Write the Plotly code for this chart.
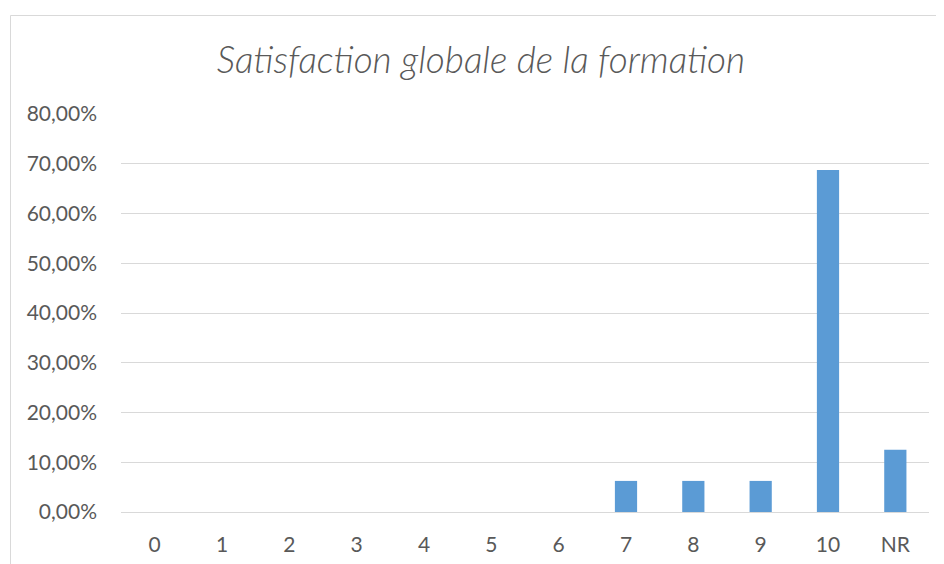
import plotly.graph_objects as go

categories = ["0", "1", "2", "3", "4", "5", "6", "7", "8", "9", "10", "NR"]
values = [0, 0, 0, 0, 0, 0, 0, 0.0625, 0.0625, 0.0625, 0.6875, 0.125]
y_ticks = [0, 0.1, 0.2, 0.3, 0.4, 0.5, 0.6, 0.7, 0.8]

fig = go.Figure(go.Bar(
    x=categories, y=values, width=0.33,
    marker=dict(color="#5B9BD5", line=dict(width=0)),
))

# page body has an 8px margin; compensate
OFF = 8
W, H = 944, 564
L = 121 - OFF
T = 114 - OFF
R = W - (929 - OFF)
B = H - (512 - OFF)
pw, ph = W - L - R, H - T - B

bx = 10.5 - OFF
by = 15.5 - OFF

fig.update_layout(
    width=W, height=H,
    margin=dict(l=L, r=R, t=T, b=B),
    paper_bgcolor="white", plot_bgcolor="white",
    separators=", ",
    showlegend=False,
    title=dict(text="Satisfaction globale de la formation",
               x=(481 - OFF) / W, xanchor="center", y=1 - (60 - OFF) / H, yanchor="middle",
               xref="container", yref="container",
               font=dict(family="Lato", size=37, color="#595959", style="italic", weight=300)),
    font=dict(family="Lato", size=21, color="#595959"),
    xaxis=dict(showgrid=False, showline=False, ticks="", ticklabelstandoff=18,
               tickfont=dict(size=21, color="#595959")),
    yaxis=dict(range=[0, 0.8], tickvals=y_ticks, tickformat=".2%",
               showgrid=True, gridcolor="#d9d9d9", gridwidth=1,
               zeroline=True, zerolinecolor="#d9d9d9", zerolinewidth=1,
               showline=False, ticks="", ticklabelstandoff=23,
               tickfont=dict(size=21, color="#595959")),
    shapes=[
        dict(type="line", xref="paper", yref="paper",
             x0=(bx - L) / pw, x1=(W + 20 - L) / pw,
             y0=1 + (T - by) / ph, y1=1 + (T - by) / ph,
             line=dict(color="#d9d9d9", width=1)),
        dict(type="line", xref="paper", yref="paper",
             x0=(bx - L) / pw, x1=(bx - L) / pw,
             y0=1 + (T - by) / ph, y1=-(B + 20) / ph,
             line=dict(color="#d9d9d9", width=1)),
    ],
)

fig.write_html("out.html")
